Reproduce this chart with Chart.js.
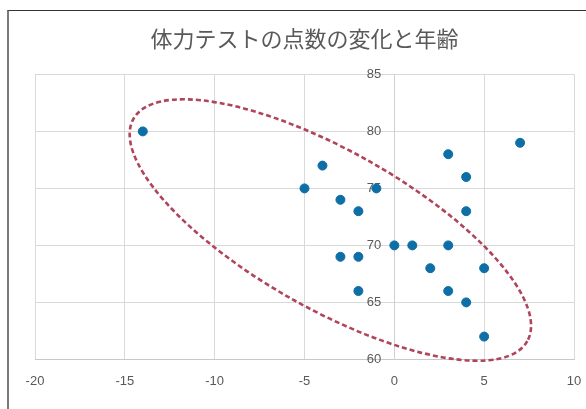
<!DOCTYPE html>
<html>
<head>
<meta charset="utf-8">
<script src="https://cdn.jsdelivr.net/npm/chart.js@4/dist/chart.umd.min.js"></script>
<style>
  html, body { margin: 0; padding: 0; background: #ffffff; overflow: hidden; }
  #frame {
    position: absolute; left: 7px; top: 10px; width: 600px; height: 420px;
    border-left: 2px solid #7a7a7a; border-top: 1px solid #333333;
  }
  #wrap { position: absolute; left: 0; top: 0; width: 586px; height: 409px; }
</style>
</head>
<body>
<div id="frame"></div>
<div id="wrap"><canvas id="c" width="586" height="409"></canvas></div>
<script>
// 年齢差 (x) と 体力テストの点数 (y)
const ageDiff = [-14, -5, -4, -3, -2, -1, -3, -2, -2, 0, 1, 3, 2, 5, 3, 4, 5, 3, 4, 4, 7];
const scores  = [ 80, 75, 77, 74, 73, 75, 69, 69, 66, 70, 70, 70, 68, 68, 66, 65, 62, 78, 76, 73, 79];

const xTicks = [-20, -15, -10, -5, 0, 5, 10];
const yTicks = [60, 65, 70, 75, 80, 85];

const titleText = '体力テストの点数の変化と年齢';

// Highlight ring: ends of the long axis in data units, half of the short axis in px
const ringEnds = [[-14.52, 81.1], [7.4, 61.6]];
const ringHalfWidthPx = 79;

const points = ageDiff.map((x, i) => ({ x: x, y: scores[i] }));

const ringPlugin = {
  id: 'ring',
  beforeDatasetsDraw(chart) {
    const xs = chart.scales.x, ys = chart.scales.y;
    const x1 = xs.getPixelForValue(ringEnds[0][0]), y1 = ys.getPixelForValue(ringEnds[0][1]);
    const x2 = xs.getPixelForValue(ringEnds[1][0]), y2 = ys.getPixelForValue(ringEnds[1][1]);
    const cx = (x1 + x2) / 2, cy = (y1 + y2) / 2;
    const rx = Math.hypot(x2 - x1, y2 - y1) / 2;
    const rot = Math.atan2(y2 - y1, x2 - x1);
    const ctx = chart.ctx;
    ctx.save();
    ctx.beginPath();
    ctx.ellipse(cx, cy, rx, ringHalfWidthPx, rot, 0, Math.PI * 2);
    ctx.setLineDash([5, 3]);
    ctx.lineWidth = 2.6;
    ctx.strokeStyle = '#b0445a';
    ctx.stroke();
    ctx.restore();
  }
};

const tickFont = { family: "'Liberation Sans Narrow', 'Liberation Sans', sans-serif", size: 13 };

new Chart(document.getElementById('c'), {
  type: 'scatter',
  data: {
    datasets: [{
      data: points,
      backgroundColor: '#0e6ea6',
      borderColor: '#0e6ea6',
      pointRadius: 4.5,
      pointHoverRadius: 4.5
    }]
  },
  options: {
    responsive: false,
    animation: false,
    events: [],
    layout: { padding: { left: 35, right: 12, top: 14, bottom: 17 } },
    plugins: {
      legend: { display: false },
      tooltip: { enabled: false },
      title: {
        display: true,
        text: titleText,
        color: '#595959',
        font: { family: "'Noto Sans CJK JP', sans-serif", size: 22, weight: 'normal' },
        padding: { top: 11, bottom: 23 }
      }
    },
    scales: {
      x: {
        type: 'linear',
        min: xTicks[0],
        max: xTicks[xTicks.length - 1],
        afterBuildTicks(scale) { scale.ticks = xTicks.map(v => ({ value: v })); },
        // invisible tick marks give the labels their distance below the axis
        grid: { color: '#d9d9d9', drawTicks: true, tickLength: 11, tickColor: 'rgba(0,0,0,0)' },
        border: { color: '#c8c8c8' },
        ticks: { color: '#595959', font: tickFont, padding: 3 }
      },
      y: {
        type: 'linear',
        position: { x: 0 },
        min: yTicks[0],
        max: yTicks[yTicks.length - 1],
        afterBuildTicks(scale) { scale.ticks = yTicks.map(v => ({ value: v })); },
        // the axis sits inside the plot at x = 0, so it takes no room at the side
        afterFit(scale) { scale.width = 0; },
        grid: { color: '#d9d9d9', drawTicks: false },
        border: { color: '#d0d0d0' },
        ticks: {
          color: '#595959', font: tickFont, padding: 0,
          // keep the labels clear of the axis line they sit against
          callback: v => v + '\u2002\u2002'
        }
      }
    }
  },
  plugins: [ringPlugin]
});
</script>
</body>
</html>
